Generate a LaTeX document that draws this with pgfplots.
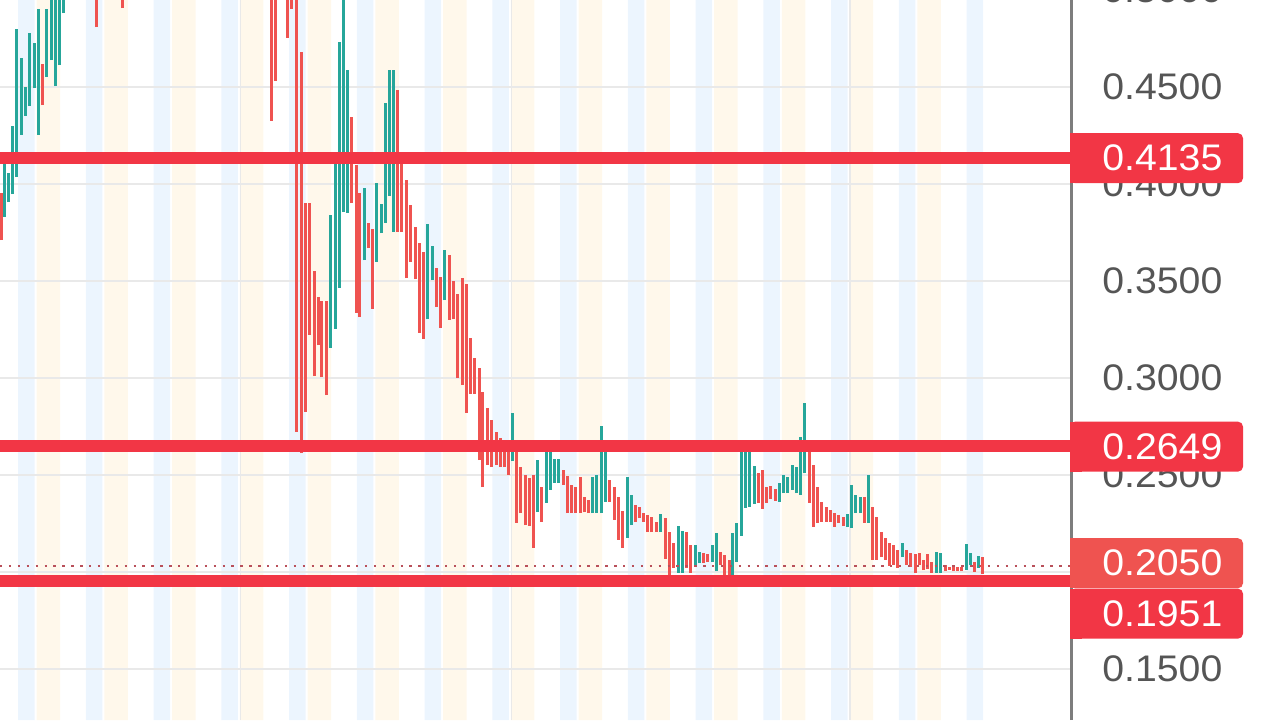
\documentclass[border=0pt]{standalone}
\usepackage{fontspec}
\setmainfont{Liberation Sans}[FakeStretch=1.06]
\usepackage{pgfplots}
\usepackage{pgfplotstable}
\pgfplotsset{compat=1.18}

\definecolor{upc}{RGB}{38,166,154}
\definecolor{dnc}{RGB}{239,83,80}
\definecolor{lvl}{RGB}{242,54,69}
\definecolor{lastc}{RGB}{239,83,80}
\definecolor{bandb}{RGB}{236,245,254}
\definecolor{bando}{RGB}{255,248,235}
\definecolor{gridc}{RGB}{233,233,233}
\definecolor{tickc}{RGB}{85,85,85}
\definecolor{axc}{RGB}{125,125,125}
\definecolor{dotc}{RGB}{185,80,90}

% rising candles: x (bar position), lo, hi
\pgfplotstableread{
x lo hi
4.3 0.3830 0.4108
8.3 0.3907 0.4057
12.3 0.3948 0.4299
16.7 0.4036 0.4799
21 0.4253 0.4649
25 0.4351 0.4500
29.3 0.4402 0.4778
34 0.4495 0.4727
38.3 0.4253 0.4902
46.3 0.4552 0.4902
51 0.4639 0.5103
55 0.4505 0.5103
59 0.4613 0.5103
63 0.4881 0.5103
330.7 0.3155 0.3840
335 0.3253 0.4108
339.3 0.3464 0.4732
343.3 0.3856 0.5052
347.7 0.3851 0.4588
364.3 0.3608 0.3979
376.7 0.3598 0.4005
381 0.3747 0.3897
385 0.3799 0.4418
389.3 0.3938 0.4588
393.3 0.3753 0.4588
427.7 0.3304 0.3794
432.3 0.3505 0.3680
444.3 0.3402 0.3660
512.7 0.2572 0.2820
537.3 0.2309 0.2577
546 0.2356 0.2639
550 0.2423 0.2644
554.3 0.2459 0.2582
558.7 0.2459 0.2582
592.7 0.2304 0.2490
596.7 0.2304 0.2500
601 0.2304 0.2753
605 0.2361 0.2644
627.3 0.2175 0.2490
631.7 0.2242 0.2397
660.7 0.2206 0.2299
678.3 0.1995 0.2237
682.3 0.1995 0.2211
695 0.2036 0.2139
699.3 0.2046 0.2103
712.3 0.2052 0.2139
716.7 0.2005 0.2201
732.7 0.1985 0.2201
736.7 0.2052 0.2253
741 0.2186 0.2644
745 0.2330 0.2644
749.3 0.2335 0.2644
754 0.2351 0.2546
779.3 0.2361 0.2459
783.3 0.2407 0.2500
787.3 0.2407 0.2490
792.3 0.2423 0.2552
796.7 0.2407 0.2541
800 0.2397 0.2696
804.3 0.2510 0.2871
847.3 0.2232 0.2299
851.7 0.2227 0.2449
855.7 0.2304 0.2397
860 0.2304 0.2387
868.3 0.2253 0.2500
902.3 0.2077 0.2149
936 0.1995 0.2103
940.7 0.1995 0.2098
966 0.2010 0.2144
970 0.2036 0.2098
978.3 0.2021 0.2082
}\upcandles

% falling candles: x (bar position), lo, hi
\pgfplotstableread{
x lo hi
1 0.3711 0.3954
42.3 0.4407 0.4619
96.7 0.4809 0.5103
122.7 0.4907 0.5103
271.7 0.4325 0.5103
275 0.4531 0.5103
287.7 0.4753 0.5103
291.7 0.4902 0.5103
296 0.2722 0.5103
301 0.2613 0.4680
305 0.2825 0.3902
309.3 0.3222 0.3902
314 0.3010 0.3552
318 0.3170 0.3418
321.7 0.3005 0.3397
326 0.2912 0.3397
351.7 0.3902 0.4345
356 0.3335 0.4098
359.3 0.3314 0.3954
368.3 0.3670 0.3799
372.7 0.3356 0.3768
397.7 0.3753 0.4485
401.7 0.3753 0.4160
406 0.3515 0.4021
410 0.3598 0.3892
415 0.3510 0.3778
419.3 0.3232 0.3696
423.3 0.3201 0.3649
436 0.3366 0.3567
440.7 0.3258 0.3521
449 0.3299 0.3634
453.3 0.3304 0.3500
457.3 0.3000 0.3433
462.3 0.2964 0.3515
466 0.2820 0.3485
470 0.2918 0.3206
474.3 0.2918 0.3103
479 0.2577 0.3052
482.7 0.2438 0.2928
487.3 0.2552 0.2845
491.7 0.2541 0.2784
496 0.2552 0.2722
500 0.2541 0.2691
504 0.2541 0.2680
508.3 0.2500 0.2629
516.7 0.2253 0.2619
520.7 0.2304 0.2541
525 0.2242 0.2500
529.3 0.2237 0.2485
533.3 0.2124 0.2500
541.7 0.2258 0.2438
563.3 0.2449 0.2526
567.3 0.2304 0.2495
571.3 0.2304 0.2449
575.7 0.2304 0.2438
580 0.2304 0.2490
584 0.2309 0.2387
588.3 0.2304 0.2371
609.3 0.2361 0.2474
614 0.2268 0.2438
618.3 0.2165 0.2387
622.7 0.2124 0.2315
635 0.2258 0.2345
639.3 0.2278 0.2335
643.3 0.2258 0.2304
647.7 0.2206 0.2294
651.7 0.2206 0.2284
656 0.2206 0.2258
665 0.2067 0.2278
669 0.1985 0.2206
673.3 0.2021 0.2149
686.7 0.2021 0.2206
690.7 0.1995 0.2139
703.3 0.2046 0.2098
707.7 0.2052 0.2093
720 0.2036 0.2103
724 0.1985 0.2088
729 0.1985 0.2062
758.3 0.2356 0.2510
762.3 0.2325 0.2526
766.7 0.2356 0.2438
770.7 0.2376 0.2443
775 0.2366 0.2428
809 0.2356 0.2644
813.3 0.2232 0.2552
817.3 0.2253 0.2438
821.7 0.2258 0.2361
826 0.2258 0.2335
830 0.2258 0.2320
834.3 0.2232 0.2304
838.3 0.2253 0.2294
843.3 0.2237 0.2284
864 0.2253 0.2387
872.3 0.2062 0.2335
876.7 0.2062 0.2284
881 0.2077 0.2206
885 0.2062 0.2175
889 0.2031 0.2149
893.3 0.2036 0.2139
897.7 0.2021 0.2113
906.7 0.2036 0.2113
910.7 0.2026 0.2098
915 0.1995 0.2093
919.3 0.2036 0.2098
923.3 0.2010 0.2062
927.7 0.2015 0.2093
931.7 0.1995 0.2052
945 0.2005 0.2036
949.3 0.2010 0.2026
953.3 0.2005 0.2026
957.3 0.2005 0.2026
961.7 0.2005 0.2026
974.3 0.2000 0.2052
982.7 0.1990 0.2077
}\downcandles

\begin{document}
\begin{tikzpicture}
\begin{axis}[
    at={(0,0)}, anchor=south west,
    width=535pt, height=360pt, scale only axis,
    xmin=0, xmax=1070,
    ymin=0.12369, ymax=0.49485,
    set layers,
    axis line style={draw=none},
    major tick length=0pt,
    xtick={240.7,511.7,850}, xticklabels={},
    ytick={0.15,0.2,0.25,0.3,0.35,0.4,0.45},
    scaled y ticks=false,
    yticklabel pos=right,
    grid=major,
    major grid style={gridc, line width=0.7pt},
    yticklabel style={anchor=west, inner sep=0pt, xshift=16pt,
        font=\fontsize{18.5pt}{18.5pt}\selectfont, text=tickc,
        /pgf/number format/fixed, /pgf/number format/fixed zerofill,
        /pgf/number format/precision=4,
        /pgf/number format/assume math mode=true},
]
% background session bands
\addplot[ybar, bar width=16.5, draw=none, fill=bandb, on layer=axis background]
    coordinates {(26.3,0.6) (94.0,0.6) (161.8,0.6) (229.6,0.6) (297.3,0.6)
    (365.0,0.6) (432.8,0.6) (500.5,0.6) (568.3,0.6) (636.0,0.6) (703.8,0.6)
    (771.5,0.6) (839.3,0.6) (907.0,0.6) (974.8,0.6)};
\addplot[ybar, bar width=23.5, draw=none, fill=bando, on layer=axis background]
    coordinates {(48.3,0.6) (116.0,0.6) (183.8,0.6) (251.6,0.6) (319.3,0.6)
    (387.0,0.6) (454.8,0.6) (522.5,0.6) (590.3,0.6) (658.0,0.6) (725.8,0.6)
    (793.5,0.6) (861.3,0.6) (929.0,0.6)};

% candles
\addplot[draw=none, error bars/.cd, y dir=plus, y explicit, error mark=none,
    error bar style={draw=upc, line width=1.5pt}]
    table[x=x, y=lo, y error expr=\thisrow{hi}-\thisrow{lo}] {\upcandles};
\addplot[draw=none, error bars/.cd, y dir=plus, y explicit, error mark=none,
    error bar style={draw=dnc, line width=1.5pt}]
    table[x=x, y=lo, y error expr=\thisrow{hi}-\thisrow{lo}] {\downcandles};

% last price and levels
\addplot[dotc, line width=1.2pt, dash pattern=on 1.2pt off 3.25pt]
    coordinates {(0,0.2032) (1070,0.2032)};
\addplot[lvl, line width=6pt] coordinates {(0,0.4135) (1070,0.4135)};
\addplot[lvl, line width=6pt] coordinates {(0,0.2649) (1070,0.2649)};
\addplot[lvl, line width=6pt] coordinates {(0,0.1951) (1070,0.1951)};

\coordinate (T5) at (axis cs:1070,0.5);
\coordinate (B1) at (axis cs:1070,0.4133);
\coordinate (B2) at (axis cs:1070,0.2646);
\coordinate (B3) at (axis cs:1070,0.2045);
\coordinate (B4) at (axis cs:1070,0.1785);
\end{axis}

\draw[axc, line width=1.3pt] (535.6pt,0) -- (535.6pt,360pt);
\node[anchor=west, inner sep=0pt, text=tickc, font=\fontsize{18.5pt}{18.5pt}\selectfont]
    at ([xshift=16pt]T5) {0.5000};

\foreach \c/\col/\txt in {B1/lvl/0.4135, B2/lvl/0.2649, B3/lastc/0.2050, B4/lvl/0.1951} {
    \fill[\col, rounded corners=2.5pt] ([yshift=-12.5pt]\c) rectangle ++(86.5pt,25pt);
    \fill[\col] ([yshift=-12.5pt]\c) rectangle ++(6pt,25pt);
    \node[anchor=west, inner sep=0pt, text=white, font=\fontsize{18.5pt}{18.5pt}\selectfont]
        at ([xshift=16pt]\c) {\txt};
}
\pgfresetboundingbox
\path[use as bounding box] (0,0) rectangle (640pt,360pt);
\end{tikzpicture}
\end{document}
